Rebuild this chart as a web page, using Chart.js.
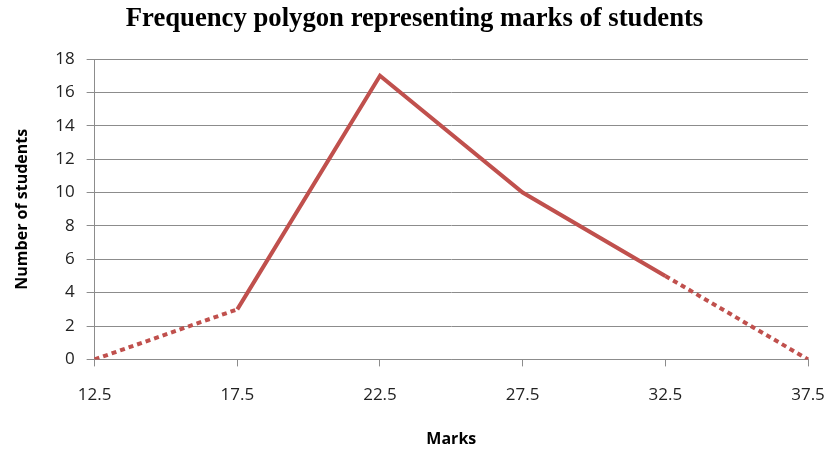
<!DOCTYPE html>
<html>
<head>
<meta charset="utf-8">
<script src="https://cdn.jsdelivr.net/npm/chart.js@4/dist/chart.umd.min.js"></script>
<style>
  html, body { margin: 0; padding: 0; background: #fff; }
  #wrap { width: 829px; height: 450px; }
</style>
</head>
<body>
<div id="wrap"><canvas id="c" width="829" height="450"></canvas></div>
<script>
const categories = ["12.5", "17.5", "22.5", "27.5", "32.5", "37.5"];
const students = [0, 3, 17, 10, 5, 0];
const yTicks = [0, 2, 4, 6, 8, 10, 12, 14, 16, 18];
const titleText = "Frequency polygon representing marks of students";
const xTitle = "Marks";
const yTitle = "Number of students";
const dashedSegments = [0, 4]; // segment start indices drawn dotted

const gray = "#8c8c8c";
const tickFont = { family: "Open Sans", size: 17 };

new Chart(document.getElementById("c"), {
  type: "line",
  data: {
    labels: categories,
    datasets: [{
      data: students,
      borderColor: "#C0504D",
      borderWidth: 4,
      pointRadius: 0,
      tension: 0,
      fill: false,
      segment: {
        borderDash: ctx => dashedSegments.includes(ctx.p0DataIndex) ? [5, 4] : undefined
      }
    }]
  },
  options: {
    responsive: false,
    animation: false,
    layout: { padding: { left: 0, right: 0, top: 3, bottom: 1 } },
    plugins: {
      legend: { display: false },
      tooltip: { enabled: false },
      title: {
        display: true,
        text: titleText,
        color: "#000",
        font: { family: "Liberation Serif", size: 26.7, weight: "bold" },
        padding: { top: 0, bottom: 24 }
      }
    },
    scales: {
      x: {
        type: "category",
        offset: false,
        border: { color: gray, width: 1 },
        grid: { drawOnChartArea: false, drawTicks: true, tickLength: 7, color: gray },
        ticks: { color: "#222", font: tickFont, padding: 19, maxRotation: 0 },
        title: { display: true, text: xTitle, color: "#000", font: { family: "Open Sans", size: 16, weight: "bold" }, padding: { top: 5, bottom: 0 } },
        afterFit: scale => { scale.paddingRight = 21; }
      },
      y: {
        min: 0, max: 18,
        afterBuildTicks: axis => { axis.ticks = yTicks.map(v => ({ value: v })); },
        border: { color: gray, width: 1 },
        grid: { drawOnChartArea: true, drawTicks: true, tickLength: 8, color: gray },
        ticks: { color: "#222", font: tickFont, padding: 12 },
        title: { display: true, text: yTitle, color: "#000", font: { family: "Open Sans", size: 16, weight: "bold" }, padding: { top: 13, bottom: 11 } }
      }
    }
  }
});
</script>
</body>
</html>
